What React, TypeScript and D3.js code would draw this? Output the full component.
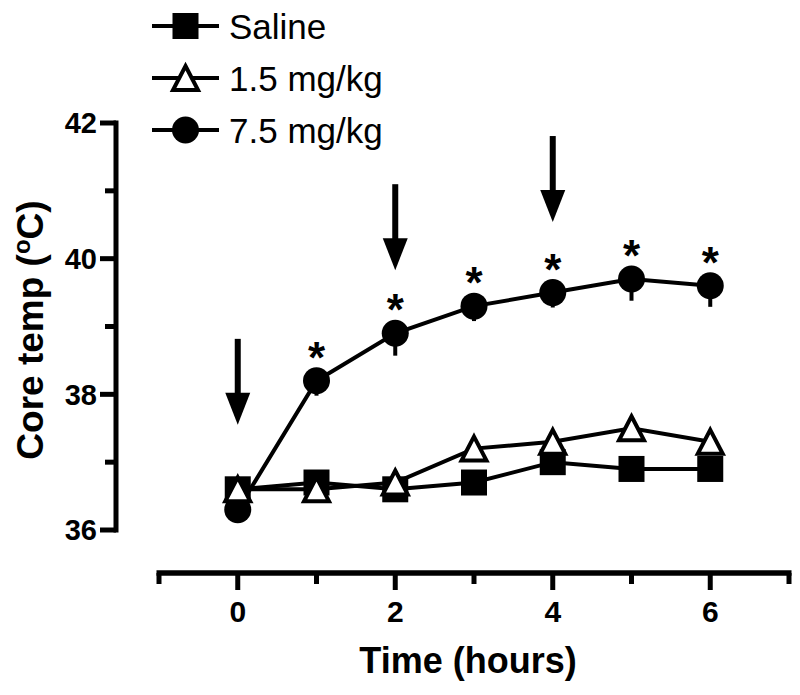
import React from "react";
import * as d3 from "d3";

const hours = [0, 1, 2, 3, 4, 5, 6];
const salineTemp = [36.6, 36.7, 36.6, 36.7, 37.0, 36.9, 36.9];
const lowDoseTemp = [36.6, 36.6, 36.7, 37.2, 37.3, 37.5, 37.3];
const highDoseTemp = [36.3, 38.2, 38.9, 39.3, 39.5, 39.7, 39.6];
const highDoseSem = [0.15, 0.22, 0.33, 0.22, 0.22, 0.32, 0.31];
const significant = [false, true, true, true, true, true, true];
const seriesNames = ["Saline", "1.5 mg/kg", "7.5 mg/kg"];
const xMajorTicks = [0, 2, 4, 6];
const xMinorTicks = [-1, 1, 3, 5, 7];
const yMajorTicks = [36, 38, 40, 42];
const yMinorTicks = [37, 39, 41];
const injectionTimes = [0, 2, 4];
const arrowTipTemps = [37.55, 39.83, 40.54];

const FONT = "'Liberation Sans', Arial, Helvetica, sans-serif";
const SW = 4;

function Square({ cx, cy }: { cx: number; cy: number }) {
  const s = 26;
  return <rect x={cx - s / 2} y={cy - s / 2} width={s} height={s} fill="#000" />;
}
function Circle({ cx, cy }: { cx: number; cy: number }) {
  return <circle cx={cx} cy={cy} r={13.5} fill="#000" />;
}
function Triangle({ cx, cy }: { cx: number; cy: number }) {
  const p = `M${cx},${cy - 12}L${cx + 12.5},${cy + 12}L${cx - 12.5},${cy + 12}Z`;
  return <path d={p} fill="#fff" stroke="#000" strokeWidth={SW} strokeLinejoin="miter" />;
}

export default function App() {
  const x = d3.scaleLinear().domain([-1, 7]).range([159, 789]);
  const y = d3.scaleLinear().domain([36, 42]).range([530, 123]);
  const line = d3
    .line<number>()
    .x((_, i) => x(hours[i]))
    .y((d) => y(d));

  const axisX = 116;
  const axisY = 573;

  const legendRows = [
    { name: seriesNames[0], M: Square },
    { name: seriesNames[1], M: Triangle },
    { name: seriesNames[2], M: Circle },
  ];

  return (
    <svg width={800} height={695} style={{ display: "block", position: "absolute", left: 0, top: 0 }} fontFamily={FONT}>
      <rect width={800} height={695} fill="#fff" />
      {/* Y axis */}
      <line x1={axisX} x2={axisX} y1={y(42) - 2.5} y2={y(36) + 2.5} stroke="#000" strokeWidth={5} />
      {yMajorTicks.map((t) => (
        <g key={"ym" + t}>
          <line x1={100} x2={axisX} y1={y(t)} y2={y(t)} stroke="#000" strokeWidth={5} />
          <text x={97} y={y(t)} dy="0.36em" textAnchor="end" fontSize={29} fontWeight="bold">
            {t}
          </text>
        </g>
      ))}
      {yMinorTicks.map((t) => (
        <line key={"yn" + t} x1={105} x2={axisX} y1={y(t)} y2={y(t)} stroke="#000" strokeWidth={5} />
      ))}
      <text
        transform={`translate(43,330) rotate(-90)`}
        textAnchor="middle"
        fontSize={37}
        fontWeight="bold"
      >
        Core temp (
        <tspan fontSize={24} dy={-13}>o</tspan>
        <tspan dy={13}>C)</tspan>
      </text>

      {/* X axis */}
      <line x1={x(-1) - 2.5} x2={x(7) + 2.5} y1={axisY} y2={axisY} stroke="#000" strokeWidth={5.5} />
      {xMinorTicks.map((t) => (
        <line key={"xn" + t} x1={x(t)} x2={x(t)} y1={axisY} y2={584} stroke="#000" strokeWidth={5} />
      ))}
      {xMajorTicks.map((t) => (
        <g key={"xm" + t}>
          <line x1={x(t)} x2={x(t)} y1={axisY} y2={590} stroke="#000" strokeWidth={5} />
          <text x={x(t)} y={622} textAnchor="middle" fontSize={30} fontWeight="bold">
            {t}
          </text>
        </g>
      ))}
      <text x={x(3) - 6} y={673} textAnchor="middle" fontSize={36} fontWeight="bold">
        Time (hours)
      </text>

      {/* Lines */}
      <path d={line(salineTemp) || ""} fill="none" stroke="#000" strokeWidth={SW} />
      <path d={line(lowDoseTemp) || ""} fill="none" stroke="#000" strokeWidth={SW} />
      <path d={line(highDoseTemp) || ""} fill="none" stroke="#000" strokeWidth={SW} />

      {/* Error bars (downward) */}
      {highDoseTemp.map((v, i) => (
        <line
          key={"eb" + i}
          x1={x(hours[i])}
          x2={x(hours[i])}
          y1={y(v)}
          y2={y(v - highDoseSem[i])}
          stroke="#000"
          strokeWidth={SW}
        />
      ))}

      {/* Markers */}
      {salineTemp.map((v, i) => (
        <Square key={"s" + i} cx={x(hours[i])} cy={y(v)} />
      ))}
      {highDoseTemp.map((v, i) => (
        <Circle key={"c" + i} cx={x(hours[i])} cy={y(v)} />
      ))}
      {lowDoseTemp.map((v, i) => (
        <Triangle key={"t" + i} cx={x(hours[i])} cy={y(v)} />
      ))}

      {/* Significance asterisks */}
      {highDoseTemp.map((v, i) =>
        significant[i] ? (
          <text key={"a" + i} x={x(hours[i])} y={y(v) - 8} textAnchor="middle" fontSize={44} fontWeight="bold">
            *
          </text>
        ) : null
      )}

      {/* Injection arrows */}
      {injectionTimes.map((t, i) => {
        const cx = x(t);
        const tip = y(arrowTipTemps[i]);
        const headLen = 32;
        const headHalf = 12.5;
        const top = tip - 86;
        return (
          <g key={"ar" + i}>
            <rect x={cx - 3} y={top} width={6} height={86 - headLen + 1} fill="#000" />
            <path
              d={`M${cx - headHalf},${tip - headLen}L${cx + headHalf},${tip - headLen}L${cx},${tip}Z`}
              fill="#000"
            />
          </g>
        );
      })}

      {/* Legend */}
      {legendRows.map((r, i) => {
        const cy = 26 + i * 52;
        const M = r.M;
        return (
          <g key={"lg" + i}>
            <line x1={152} x2={219} y1={cy} y2={cy} stroke="#000" strokeWidth={SW} />
            <M cx={185.5} cy={cy} />
            <text x={229} y={cy} dy="0.36em" fontSize={35}>
              {r.name}
            </text>
          </g>
        );
      })}
    </svg>
  );
}
